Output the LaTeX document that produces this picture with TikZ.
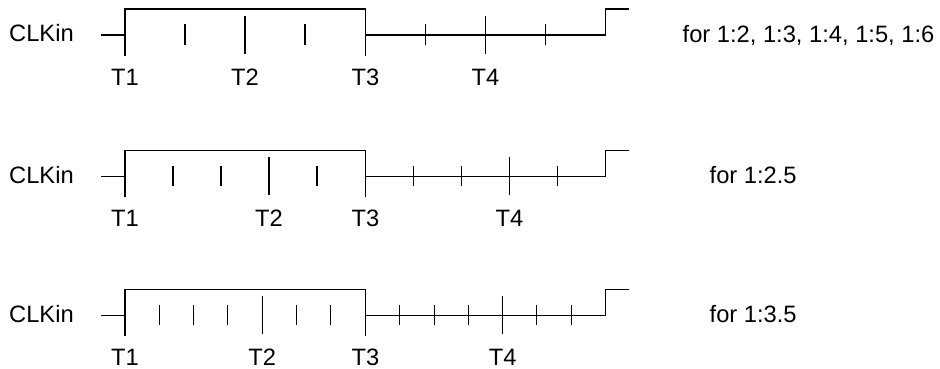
\documentclass[tikz,border=0pt]{standalone}
\usepackage{fontspec}
\setmainfont{Liberation Sans}
\tikzset{
    wave/.style={line width=1.1pt, black},
    smalltick/.style={line width=1.1pt, black},
    bigtick/.style={line width=1.1pt, black},
    lbl/.style={font=\fontsize{23.7}{28}\selectfont, inner sep=0pt}
}

\begin{document}
\begin{tikzpicture}[x=1pt, y=-1pt]
\useasboundingbox (0,0) rectangle (940,369);

% ===============================================================
% ==== one row per ratio: base line / divisions / T2,T4 index ====
% ===============================================================
\foreach \row/\base/\ndiv/\kt/\rtext/\rx in {
    1/35/4/2/{for 1:2, 1:3, 1:4, 1:5, 1:6}/682.5,
    2/176.3/5/3/{for 1:2.5}/709.5,
    3/315.3/7/4/{for 1:3.5}/709.5}{

    \pgfmathsetmacro\dx{240/\ndiv}
    \pgfmathtruncatemacro\nlast{\ndiv-1}

    % CLKin label
    \node[lbl, anchor=base west] (clk-\row) at (9,\base+7) {CLKin};

    % waveform
    \draw[wave] (101,\base) -- (125,\base);
    \draw[wave] (125,\base+21) -- (125,\base-26) -- (365.5,\base-26) -- (365.5,\base+21);
    \draw[wave] (365.5,\base) -- (605.3,\base) -- (605.3,\base-26) -- (628.7,\base-26);

    % ticks (high and low half)
    \foreach \i in {1,...,\nlast}{
        \ifnum\i=\kt
            \draw[bigtick] (125+\i*\dx,\base-19) -- (125+\i*\dx,\base+19);
            \draw[bigtick] (365.5+\i*\dx,\base-19) -- (365.5+\i*\dx,\base+19);
        \else
            \draw[smalltick] (125+\i*\dx,\base-10.5) -- (125+\i*\dx,\base+10);
            \draw[smalltick] (365.5+\i*\dx,\base-10.5) -- (365.5+\i*\dx,\base+10);
        \fi
    }

    % T labels
    \node[lbl, anchor=base] (T1-\row) at (125,\base+50) {T1};
    \node[lbl, anchor=base] (T2-\row) at (125+\kt*\dx,\base+50) {T2};
    \node[lbl, anchor=base] (T3-\row) at (365.5,\base+50) {T3};
    \node[lbl, anchor=base] (T4-\row) at (365.5+\kt*\dx,\base+50) {T4};

    % ratio text
    \node[lbl, anchor=base west] (ratio-\row) at (\rx,\base+7.5) {\rtext};
}

\end{tikzpicture}
\end{document}
